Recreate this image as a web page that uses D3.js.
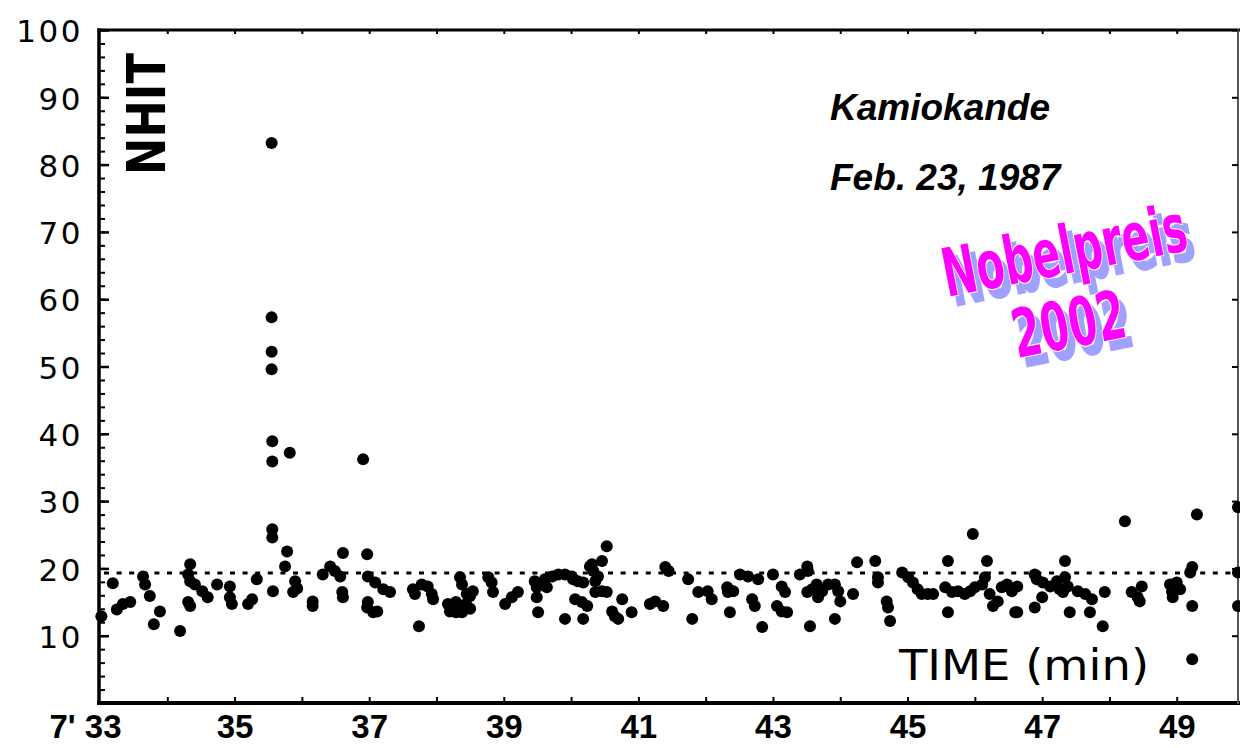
<!DOCTYPE html>
<html>
<head>
<meta charset="utf-8">
<script src="https://cdn.jsdelivr.net/npm/d3@7"></script>
<style>
  html, body { margin: 0; padding: 0; background: #fff; }
  svg { display: block; }
</style>
</head>
<body>
<svg id="chart"></svg>
<script>
"use strict";

// [time in minutes after 7:00, NHIT]
const burstEvents = [
    [35.55, 83.2], [35.55, 57.3], [35.55, 52.2], [35.55, 49.6], [35.56, 38.9],
    [35.82, 37.2], [35.56, 35.9], [35.56, 25.8], [35.56, 24.6], [36.91, 36.2]
];

const backgroundEvents = [
    [33.02, 12.9], [33.19, 17.8], [33.25, 13.9], [33.34, 14.7], [33.45, 15.0],
    [33.64, 18.8], [33.67, 17.6], [33.74, 15.9], [33.89, 13.6], [33.80, 11.7], [34.19, 10.7],
    [34.34, 20.6], [34.31, 19.1], [34.34, 18.1], [34.31, 15.0], [34.34, 14.4],
    [34.41, 17.6], [34.52, 16.6], [34.60, 15.7], [34.74, 17.6],
    [34.93, 17.3], [34.96, 14.7], [34.93, 15.7],
    [35.20, 14.7], [35.26, 15.4], [35.33, 18.4],
    [35.57, 16.6], [35.78, 22.5], [35.75, 20.3], [35.90, 18.1], [35.87, 16.5], [35.93, 17.0],
    [36.16, 15.1], [36.16, 14.4], [36.31, 19.1],
    [36.61, 22.3], [36.97, 22.1], [36.42, 20.3], [36.49, 19.6], [36.57, 18.8],
    [36.60, 16.5], [36.61, 15.7],
    [36.98, 18.8], [37.09, 17.9], [37.21, 16.9], [37.31, 16.5],
    [36.97, 14.2], [37.06, 13.5], [37.12, 13.6], [36.98, 15.0],
    [37.65, 16.9], [37.68, 16.2], [37.78, 17.6], [37.87, 17.3], [37.93, 16.2], [37.95, 15.4],
    [37.74, 11.4],
    [38.35, 18.7], [38.38, 17.6], [38.45, 16.2], [38.54, 16.6], [38.50, 15.9],
    [38.17, 14.7], [38.23, 14.2], [38.29, 13.5], [38.35, 14.4], [38.44, 14.7],
    [38.29, 15.0], [38.50, 14.0], [38.20, 13.6], [38.38, 13.5],
    [38.77, 18.7], [38.82, 17.9], [38.84, 16.5],
    [39.02, 14.7], [39.12, 15.7], [39.21, 16.5],
    [39.46, 18.1], [39.49, 17.2], [39.49, 15.7], [39.51, 13.5],
    [39.61, 18.4], [39.64, 17.2], [39.72, 18.8],
    [39.81, 19.1], [39.91, 19.1], [40.01, 18.8],
    [40.03, 18.4], [40.10, 18.1], [40.18, 17.9], [40.28, 20.3], [40.33, 19.6],
    [40.36, 18.1], [40.40, 18.8], [40.31, 20.6], [40.46, 21.1], [40.53, 23.3],
    [40.36, 16.5], [40.46, 16.6], [40.53, 16.5],
    [40.06, 15.4], [40.16, 15.0], [40.24, 14.4],
    [39.91, 12.5], [40.18, 12.5],
    [40.61, 13.6], [40.65, 12.9], [40.70, 12.5],
    [40.76, 15.4], [40.90, 13.5],
    [41.17, 14.7], [41.25, 15.1], [41.37, 14.4],
    [41.40, 20.2], [41.45, 19.6],
    [41.74, 18.4], [41.80, 12.5],
    [41.89, 16.5], [42.03, 16.6], [42.09, 15.4],
    [42.32, 17.2], [42.33, 16.5], [42.41, 16.6], [42.36, 13.5],
    [42.51, 19.1], [42.63, 18.8], [42.69, 15.4], [42.73, 14.4],
    [42.78, 18.4], [42.84, 11.3],
    [43.00, 19.1], [43.06, 14.4], [43.13, 13.6], [43.13, 17.3],
    [43.18, 16.5], [43.21, 13.5],
    [43.40, 19.1], [43.51, 20.3], [43.52, 19.6], [43.55, 11.4],
    [43.51, 16.5], [43.58, 16.9], [43.65, 17.6], [43.67, 15.7], [43.73, 16.6],
    [43.82, 17.6], [43.92, 17.6], [43.97, 16.6], [44.00, 15.1], [43.92, 12.5],
    [44.19, 16.2], [44.25, 20.9], [44.52, 21.1],
    [44.56, 18.7], [44.56, 17.9],
    [44.69, 15.1], [44.71, 14.2], [44.74, 12.2],
    [44.92, 19.4], [45.01, 18.7], [45.08, 17.9], [45.15, 16.9], [45.21, 16.2],
    [45.30, 16.2], [45.38, 16.2],
    [45.60, 21.1], [45.60, 13.5],
    [45.56, 17.2], [45.66, 16.5], [45.75, 16.6], [45.85, 16.2], [45.93, 16.6],
    [46.00, 17.2], [46.11, 17.6], [46.15, 18.7],
    [45.97, 25.1], [46.18, 21.1],
    [46.22, 16.2], [46.27, 14.4], [46.34, 15.1], [46.40, 17.2], [46.48, 17.6], [46.55, 16.6],
    [46.60, 13.5], [46.63, 17.3], [46.63, 13.5],
    [46.89, 19.1], [46.92, 18.4], [47.01, 17.9], [47.00, 15.7], [46.89, 14.2],
    [47.12, 17.3], [47.22, 18.1], [47.26, 16.9], [47.34, 18.7], [47.38, 17.3], [47.31, 16.5],
    [47.34, 21.1], [47.41, 13.5],
    [47.53, 16.6], [47.64, 16.2], [47.74, 15.4], [47.71, 13.5],
    [47.93, 16.5], [47.90, 11.4],
    [48.23, 27.0],
    [48.33, 16.5], [48.42, 15.7], [48.48, 17.3], [48.45, 15.1],
    [48.90, 17.6], [49.00, 17.9], [48.93, 16.5], [49.05, 16.9], [48.94, 15.7],
    [49.23, 20.2], [49.20, 19.4],
    [49.30, 28.0], [49.23, 14.4], [49.23, 6.5],
    [49.91, 29.1], [49.91, 19.4], [49.91, 14.4]
];

const yTicks = [10, 20, 30, 40, 50, 60, 70, 80, 90, 100];
const xTicks = [33, 35, 37, 39, 41, 43, 45, 47, 49];
const xTickLabels = ["7' 33", "35", "37", "39", "41", "43", "45", "47", "49"];
const threshold = 19.3;

const width = 1240;
const height = 748;

const x = d3.scaleLinear().domain([33, 49.94]).range([100, 1240]);
const y = d3.scaleLinear().domain([0, 100]).range([703, 30]);

const svg = d3.select("#chart")
    .attr("width", width)
    .attr("height", height);

// lavender drop shadow for the stamp
const shadow = svg.append("defs").append("filter")
    .attr("id", "stamp-shadow")
    .attr("x", "-10%").attr("y", "-20%")
    .attr("width", "130%").attr("height", "160%");
shadow.append("feOffset").attr("in", "SourceAlpha").attr("dx", 7).attr("dy", 9).attr("result", "off");
shadow.append("feFlood").attr("flood-color", "#a0a0ff").attr("result", "col");
shadow.append("feComposite").attr("in", "col").attr("in2", "off").attr("operator", "in").attr("result", "sh");
const merge = shadow.append("feMerge");
merge.append("feMergeNode").attr("in", "sh");
merge.append("feMergeNode").attr("in", "SourceGraphic");

// frame
const frame = svg.append("g")
    .attr("stroke", "#000")
    .attr("fill", "none")
    .attr("stroke-linecap", "square");
frame.append("line").attr("x1", 99).attr("x2", 99).attr("y1", 30).attr("y2", 703).attr("stroke-width", 3.5);
frame.append("line").attr("x1", 99).attr("x2", 1240).attr("y1", 703).attr("y2", 703).attr("stroke-width", 4);
frame.append("line").attr("x1", 99).attr("x2", 1240).attr("y1", 30).attr("y2", 30).attr("stroke-width", 3);
frame.append("line").attr("x1", 1238).attr("x2", 1238).attr("y1", 30).attr("y2", 703)
    .attr("stroke-width", 2).attr("stroke", "#555");

// ticks: everything points inward
function styleTicks(g, w) {
    g.select(".domain").remove();
    g.selectAll(".tick line").attr("stroke", "#000").attr("stroke-width", w);
}

svg.append("g")
    .attr("transform", "translate(100,0)")
    .call(d3.axisRight(y).tickValues(d3.range(2, 100, 2)).tickSize(5).tickFormat(""))
    .call(g => styleTicks(g, 2));
svg.append("g")
    .attr("transform", "translate(100,0)")
    .call(d3.axisRight(y).tickValues(yTicks).tickSize(9).tickFormat(""))
    .call(g => styleTicks(g, 2.5));
svg.append("g")
    .attr("transform", "translate(1238,0)")
    .call(d3.axisLeft(y).tickValues(yTicks).tickSize(6).tickFormat(""))
    .call(g => styleTicks(g, 2));
svg.append("g")
    .attr("transform", "translate(0,703)")
    .call(d3.axisTop(x).tickValues(d3.range(34, 50, 1)).tickSize(6).tickFormat(""))
    .call(g => styleTicks(g, 2));
svg.append("g")
    .attr("transform", "translate(0,30)")
    .call(d3.axisBottom(x).tickValues(d3.range(34, 50, 1)).tickSize(4).tickFormat(""))
    .call(g => styleTicks(g, 2));

// tick labels
const yLabels = svg.append("g")
    .attr("transform", "translate(100,0)")
    .call(d3.axisLeft(y).tickValues(yTicks).tickSize(0).tickPadding(17));
yLabels.select(".domain").remove();
yLabels.selectAll("text")
    .attr("dy", "0.38em")
    .style("font-family", "'DejaVu Sans', sans-serif")
    .style("font-size", "31px")
    .style("letter-spacing", "2.5px")
    .style("fill", "#000");

const xLabels = svg.append("g")
    .attr("transform", "translate(0,703)")
    .call(d3.axisBottom(x).tickValues(xTicks).tickSize(0).tickPadding(12)
        .tickFormat((d, i) => xTickLabels[i]));
xLabels.select(".domain").remove();
xLabels.selectAll("text")
    .style("font-family", "'Liberation Sans', Arial, sans-serif")
    .style("font-weight", "bold")
    .style("font-size", "33px")
    .style("fill", "#000");
xLabels.selectAll("text").filter((d, i) => i === 0)
    .attr("text-anchor", "end")
    .attr("x", 21);

// threshold line
svg.append("line")
    .attr("x1", x(33) + 4)
    .attr("x2", width)
    .attr("y1", y(threshold))
    .attr("y2", y(threshold))
    .attr("stroke", "#000")
    .attr("stroke-width", 3)
    .attr("stroke-dasharray", "5,7.6");

// events
svg.append("g")
    .selectAll("circle")
    .data(backgroundEvents.concat(burstEvents))
    .enter()
    .append("circle")
    .attr("cx", d => x(d[0]))
    .attr("cy", d => y(d[1]))
    .attr("r", 6)
    .attr("fill", "#000");

// labels
svg.append("text")
    .attr("transform", "translate(165,114) rotate(-90)")
    .attr("text-anchor", "middle")
    .attr("textLength", 122)
    .attr("lengthAdjust", "spacingAndGlyphs")
    .style("font-family", "'DejaVu Sans', sans-serif")
    .style("font-weight", "bold")
    .style("font-size", "54px")
    .text("NHIT");

svg.append("text")
    .attr("x", 899)
    .attr("y", 680)
    .attr("textLength", 250)
    .attr("lengthAdjust", "spacingAndGlyphs")
    .style("font-family", "'DejaVu Sans', sans-serif")
    .style("font-size", "43px")
    .text("TIME (min)");

const info = svg.append("g")
    .style("font-family", "'Liberation Sans', Arial, sans-serif")
    .style("font-weight", "bold")
    .style("font-style", "italic")
    .style("font-size", "37px");
info.append("text").attr("x", 830).attr("y", 120).text("Kamiokande");
info.append("text").attr("x", 830).attr("y", 190).text("Feb. 23, 1987");

// Nobel stamp, squeezed horizontally to the width seen in the picture
const stamp = [
    { text: "Nobelpreis", x: 947, y: 297, len: 248 },
    { text: "2002", x: 1017, y: 358, len: 114 }
];
const stampGroup = svg.append("g")
    .attr("filter", "url(#stamp-shadow)")
    .style("font-family", "'Liberation Sans Narrow', 'DejaVu Sans Condensed', sans-serif")
    .style("font-weight", "bold")
    .style("font-size", "67px");
stamp.forEach(s => {
    const t = stampGroup.append("text")
        .attr("fill", "#ff00ff")
        .attr("stroke", "#fff")
        .attr("stroke-width", 2)
        .attr("paint-order", "stroke")
        .text(s.text);
    const sx = s.len / t.node().getComputedTextLength();
    t.attr("transform", `translate(${s.x},${s.y}) rotate(-11) scale(${sx},1)`);
});
</script>
</body>
</html>
